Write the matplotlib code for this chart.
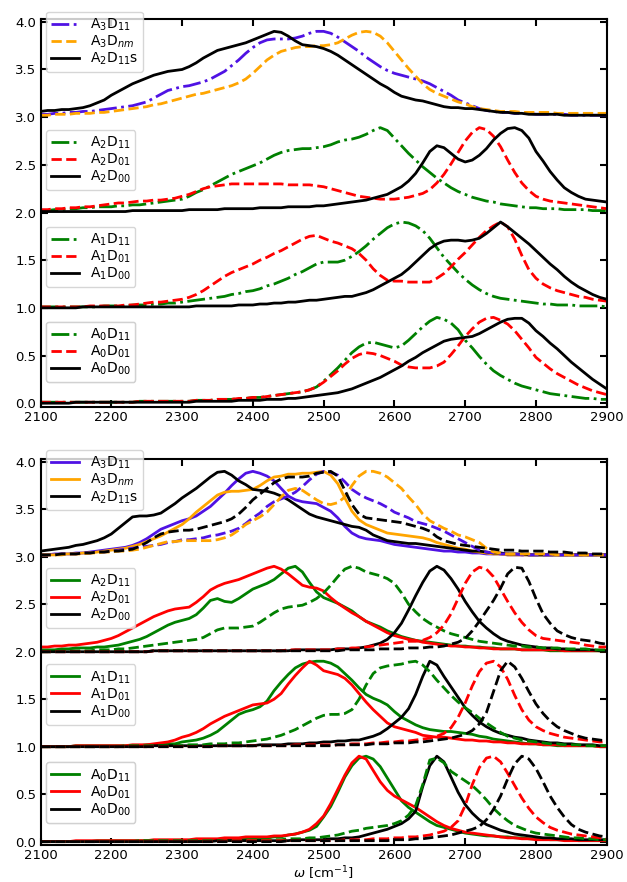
import numpy as np
import matplotlib
matplotlib.use('Agg')
import matplotlib.pyplot as plt

# wavenumber grid (cm^-1)
wavenumber = np.arange(2100, 2901, 10)

# ---------------- Top panel (values without vertical offset) ----------------
top_A3D11 = [0.03,0.03,0.04,0.04,0.05,0.05,0.06,0.06,0.07,0.08,
             0.09,0.10,0.11,0.12,0.14,0.16,0.20,0.24,0.28,0.30,
             0.32,0.33,0.35,0.37,0.40,0.44,0.48,0.54,0.60,0.67,
             0.73,0.78,0.81,0.82,0.82,0.82,0.83,0.85,0.88,0.90,
             0.90,0.88,0.84,0.79,0.74,0.69,0.63,0.58,0.53,0.49,
             0.46,0.44,0.42,0.40,0.38,0.35,0.31,0.27,0.23,0.18,
             0.15,0.12,0.09,0.07,0.06,0.05,0.05,0.04,0.04,0.04,
             0.03,0.03,0.03,0.03,0.03,0.02,0.02,0.02,0.02,0.02,
             0.02]
top_A3Dnm = [0.02,0.02,0.03,0.03,0.03,0.04,0.04,0.04,0.05,0.05,
             0.06,0.07,0.08,0.09,0.10,0.11,0.13,0.14,0.16,0.18,
             0.20,0.22,0.24,0.25,0.27,0.29,0.31,0.33,0.36,0.40,
             0.46,0.53,0.60,0.65,0.69,0.71,0.73,0.74,0.74,0.75,
             0.75,0.76,0.78,0.82,0.86,0.89,0.90,0.89,0.85,0.78,
             0.69,0.60,0.51,0.43,0.35,0.29,0.25,0.22,0.19,0.16,
             0.14,0.11,0.09,0.08,0.07,0.06,0.06,0.06,0.05,0.05,
             0.05,0.05,0.05,0.04,0.04,0.04,0.04,0.04,0.04,0.04,
             0.04]
top_A2D11s = [0.06,0.07,0.07,0.08,0.08,0.09,0.10,0.12,0.15,0.18,
              0.23,0.27,0.31,0.35,0.38,0.41,0.44,0.46,0.48,0.49,
              0.50,0.53,0.57,0.62,0.66,0.70,0.72,0.74,0.76,0.78,
              0.81,0.84,0.87,0.90,0.89,0.85,0.80,0.76,0.75,0.74,
              0.72,0.69,0.65,0.60,0.55,0.50,0.45,0.40,0.35,0.31,
              0.26,0.22,0.20,0.18,0.17,0.15,0.13,0.11,0.10,0.10,
              0.09,0.09,0.08,0.07,0.06,0.05,0.05,0.04,0.04,0.03,
              0.03,0.03,0.03,0.03,0.02,0.02,0.02,0.02,0.02,0.02,
              0.02]
top_A2D11 = [0.02,0.02,0.03,0.03,0.04,0.04,0.05,0.05,0.06,0.06,
             0.06,0.07,0.07,0.08,0.08,0.09,0.10,0.11,0.12,0.13,
             0.14,0.17,0.21,0.24,0.28,0.32,0.36,0.40,0.43,0.46,
             0.49,0.52,0.56,0.60,0.63,0.65,0.66,0.67,0.67,0.68,
             0.69,0.71,0.74,0.76,0.77,0.79,0.82,0.86,0.89,0.86,
             0.78,0.70,0.62,0.55,0.48,0.42,0.36,0.31,0.26,0.22,
             0.19,0.16,0.14,0.12,0.11,0.09,0.08,0.07,0.06,0.05,
             0.05,0.04,0.04,0.04,0.03,0.03,0.03,0.03,0.02,0.02,
             0.02]
top_A2D01 = [0.03,0.03,0.04,0.04,0.05,0.05,0.06,0.06,0.07,0.08,
             0.09,0.10,0.10,0.11,0.12,0.12,0.13,0.13,0.14,0.15,
             0.17,0.19,0.22,0.25,0.27,0.28,0.29,0.30,0.30,0.30,
             0.30,0.30,0.30,0.30,0.30,0.29,0.29,0.29,0.29,0.28,
             0.27,0.25,0.23,0.21,0.19,0.17,0.16,0.15,0.14,0.14,
             0.14,0.15,0.16,0.18,0.20,0.24,0.31,0.40,0.51,0.63,
             0.75,0.84,0.89,0.87,0.80,0.69,0.55,0.42,0.31,0.23,
             0.17,0.14,0.12,0.11,0.10,0.09,0.08,0.07,0.06,0.05,
             0.04]
top_A2D00 = [0.01,0.01,0.01,0.01,0.01,0.01,0.01,0.01,0.01,0.01,
             0.01,0.01,0.01,0.02,0.02,0.02,0.02,0.02,0.02,0.02,
             0.02,0.03,0.03,0.03,0.03,0.03,0.04,0.04,0.04,0.04,
             0.04,0.05,0.05,0.05,0.05,0.06,0.06,0.06,0.06,0.07,
             0.07,0.08,0.09,0.10,0.11,0.12,0.13,0.15,0.17,0.19,
             0.23,0.27,0.33,0.41,0.52,0.64,0.70,0.68,0.62,0.56,
             0.53,0.55,0.60,0.67,0.76,0.83,0.88,0.89,0.86,0.78,
             0.64,0.54,0.43,0.34,0.26,0.21,0.17,0.14,0.13,0.12,
             0.11]
top_A1D11 = [0.01,0.01,0.01,0.01,0.01,0.01,0.01,0.01,0.01,0.02,
             0.02,0.02,0.02,0.03,0.03,0.03,0.04,0.04,0.05,0.05,
             0.06,0.07,0.08,0.09,0.10,0.11,0.12,0.14,0.15,0.17,
             0.18,0.20,0.23,0.25,0.28,0.31,0.35,0.38,0.42,0.46,
             0.48,0.48,0.48,0.50,0.54,0.59,0.65,0.72,0.78,0.84,
             0.88,0.90,0.89,0.86,0.81,0.73,0.63,0.53,0.45,0.37,
             0.30,0.24,0.19,0.15,0.12,0.10,0.09,0.08,0.07,0.06,
             0.05,0.04,0.04,0.03,0.03,0.03,0.02,0.02,0.02,0.02,
             0.01]
top_A1D01 = [0.01,0.01,0.01,0.01,0.01,0.01,0.01,0.02,0.02,0.02,
             0.02,0.02,0.03,0.03,0.04,0.05,0.06,0.06,0.07,0.08,
             0.09,0.11,0.14,0.18,0.23,0.28,0.33,0.37,0.40,0.43,
             0.46,0.50,0.53,0.57,0.60,0.64,0.68,0.72,0.75,0.76,
             0.73,0.70,0.68,0.65,0.62,0.57,0.50,0.41,0.34,0.29,
             0.28,0.28,0.27,0.27,0.27,0.27,0.31,0.36,0.43,0.51,
             0.58,0.66,0.74,0.81,0.86,0.90,0.85,0.72,0.55,0.40,
             0.31,0.25,0.21,0.18,0.16,0.14,0.12,0.11,0.09,0.08,
             0.07]
top_A1D00 = [0.00,0.00,0.00,0.00,0.00,0.00,0.01,0.01,0.01,0.01,
             0.01,0.01,0.01,0.01,0.01,0.01,0.01,0.01,0.01,0.01,
             0.01,0.01,0.02,0.02,0.02,0.02,0.02,0.02,0.03,0.03,
             0.03,0.04,0.04,0.05,0.05,0.06,0.06,0.07,0.08,0.08,
             0.09,0.10,0.11,0.12,0.12,0.14,0.16,0.19,0.23,0.27,
             0.31,0.35,0.41,0.48,0.55,0.62,0.67,0.70,0.71,0.71,
             0.70,0.71,0.73,0.78,0.84,0.90,0.85,0.79,0.73,0.67,
             0.60,0.53,0.46,0.40,0.33,0.27,0.22,0.18,0.14,0.11,
             0.09]
top_A0D11 = [0.01,0.01,0.01,0.01,0.01,0.01,0.01,0.01,0.01,0.01,
             0.01,0.01,0.01,0.01,0.02,0.02,0.02,0.02,0.02,0.02,
             0.02,0.02,0.03,0.03,0.03,0.04,0.04,0.04,0.05,0.05,
             0.06,0.06,0.07,0.08,0.09,0.10,0.11,0.12,0.14,0.17,
             0.23,0.30,0.37,0.45,0.53,0.59,0.63,0.64,0.62,0.60,
             0.58,0.60,0.66,0.73,0.80,0.86,0.90,0.88,0.84,0.77,
             0.66,0.58,0.49,0.41,0.34,0.29,0.25,0.21,0.18,0.16,
             0.14,0.12,0.10,0.09,0.08,0.07,0.06,0.05,0.05,0.04,
             0.04]
top_A0D01 = [0.01,0.01,0.01,0.01,0.01,0.01,0.01,0.01,0.01,0.01,
             0.01,0.01,0.01,0.01,0.02,0.02,0.02,0.02,0.02,0.02,
             0.02,0.02,0.03,0.03,0.03,0.04,0.04,0.04,0.05,0.05,
             0.06,0.06,0.07,0.08,0.09,0.10,0.11,0.12,0.14,0.17,
             0.22,0.28,0.34,0.41,0.47,0.51,0.53,0.52,0.50,0.47,
             0.44,0.40,0.38,0.37,0.37,0.37,0.39,0.43,0.51,0.60,
             0.70,0.78,0.85,0.89,0.90,0.87,0.83,0.76,0.67,0.58,
             0.48,0.42,0.36,0.31,0.27,0.23,0.19,0.16,0.13,0.11,
             0.09]
top_A0D00 = [0.00,0.00,0.00,0.00,0.00,0.01,0.01,0.01,0.01,0.01,
             0.01,0.01,0.01,0.01,0.01,0.01,0.01,0.01,0.01,0.01,
             0.01,0.01,0.02,0.02,0.02,0.02,0.02,0.02,0.03,0.03,
             0.03,0.03,0.04,0.04,0.04,0.05,0.05,0.06,0.07,0.08,
             0.09,0.10,0.11,0.13,0.15,0.18,0.21,0.24,0.27,0.31,
             0.35,0.39,0.44,0.48,0.53,0.57,0.61,0.65,0.67,0.68,
             0.69,0.70,0.73,0.77,0.81,0.85,0.88,0.89,0.89,0.84,
             0.76,0.70,0.63,0.57,0.50,0.43,0.37,0.31,0.25,0.20,
             0.15]

# ---------------- Bottom panel: solid (_s) and dashed (_d) ----------------
bot_A3D11_s = [0.02,0.02,0.03,0.03,0.03,0.04,0.04,0.05,0.06,0.07,
               0.08,0.09,0.10,0.12,0.15,0.19,0.24,0.29,0.32,0.35,
               0.38,0.40,0.43,0.48,0.53,0.60,0.67,0.75,0.82,0.88,
               0.90,0.88,0.85,0.80,0.72,0.64,0.60,0.58,0.57,0.56,
               0.52,0.48,0.41,0.32,0.25,0.21,0.19,0.18,0.17,0.15,
               0.13,0.12,0.11,0.10,0.09,0.08,0.07,0.06,0.06,0.05,
               0.05,0.04,0.04,0.03,0.03,0.03,0.02,0.02,0.02,0.02,
               0.02,0.02,0.02,0.02,0.02,0.02,0.02,0.02,0.02,0.02,
               0.02]
bot_A3Dnm_s = [0.02,0.02,0.02,0.03,0.03,0.03,0.04,0.04,0.05,0.06,
               0.07,0.08,0.09,0.11,0.13,0.16,0.19,0.22,0.26,0.30,
               0.34,0.40,0.47,0.53,0.59,0.65,0.68,0.69,0.69,0.70,
               0.71,0.75,0.80,0.84,0.85,0.87,0.87,0.88,0.88,0.89,
               0.90,0.86,0.77,0.62,0.48,0.39,0.34,0.31,0.28,0.25,
               0.24,0.23,0.22,0.21,0.20,0.18,0.15,0.13,0.11,0.09,
               0.08,0.06,0.05,0.04,0.03,0.03,0.02,0.02,0.02,0.02,
               0.02,0.02,0.02,0.02,0.02,0.02,0.02,0.02,0.02,0.02,
               0.02]
bot_A2D11s_s = [0.06,0.07,0.08,0.09,0.10,0.12,0.13,0.15,0.17,0.20,
                0.24,0.30,0.36,0.42,0.43,0.43,0.44,0.46,0.51,0.56,
                0.62,0.67,0.72,0.78,0.84,0.89,0.90,0.86,0.80,0.76,
                0.71,0.70,0.69,0.67,0.64,0.60,0.55,0.50,0.45,0.42,
                0.40,0.38,0.36,0.34,0.32,0.31,0.28,0.23,0.20,0.17,
                0.16,0.15,0.14,0.14,0.13,0.12,0.11,0.10,0.09,0.08,
                0.07,0.06,0.06,0.05,0.04,0.04,0.03,0.03,0.03,0.02,
                0.02,0.02,0.02,0.02,0.02,0.02,0.02,0.02,0.02,0.02,
                0.02]
bot_A3D11_d = [0.02,0.02,0.02,0.03,0.03,0.03,0.04,0.04,0.05,0.05,
               0.06,0.07,0.08,0.09,0.10,0.11,0.12,0.13,0.15,0.16,
               0.18,0.18,0.19,0.20,0.22,0.23,0.25,0.27,0.30,0.35,
               0.41,0.46,0.53,0.58,0.61,0.64,0.68,0.74,0.81,0.87,
               0.90,0.89,0.86,0.79,0.71,0.66,0.62,0.59,0.56,0.52,
               0.47,0.44,0.41,0.37,0.35,0.33,0.30,0.27,0.23,0.19,
               0.15,0.11,0.07,0.05,0.04,0.03,0.03,0.03,0.02,0.02,
               0.02,0.02,0.02,0.02,0.02,0.02,0.02,0.02,0.02,0.02,
               0.02]
bot_A3Dnm_d = [0.02,0.02,0.02,0.02,0.03,0.03,0.03,0.04,0.04,0.05,
               0.05,0.06,0.06,0.07,0.08,0.10,0.12,0.14,0.16,0.16,
               0.17,0.17,0.17,0.17,0.17,0.18,0.20,0.23,0.28,0.34,
               0.38,0.42,0.47,0.55,0.63,0.70,0.72,0.70,0.65,0.60,
               0.56,0.55,0.57,0.63,0.75,0.85,0.90,0.90,0.88,0.84,
               0.78,0.72,0.63,0.55,0.45,0.38,0.34,0.30,0.27,0.23,
               0.21,0.18,0.15,0.09,0.05,0.04,0.03,0.03,0.03,0.03,
               0.03,0.03,0.03,0.02,0.02,0.02,0.02,0.02,0.02,0.02,
               0.02]
bot_A2D11s_d = [0.02,0.02,0.02,0.03,0.03,0.03,0.04,0.04,0.05,0.05,
                0.06,0.06,0.07,0.08,0.11,0.15,0.20,0.24,0.26,0.27,
                0.28,0.28,0.29,0.31,0.33,0.35,0.37,0.40,0.45,0.52,
                0.60,0.66,0.72,0.78,0.82,0.84,0.84,0.84,0.85,0.88,
                0.89,0.90,0.85,0.70,0.55,0.45,0.41,0.40,0.39,0.38,
                0.37,0.36,0.34,0.32,0.30,0.27,0.21,0.17,0.15,0.13,
                0.12,0.11,0.10,0.09,0.08,0.07,0.07,0.07,0.06,0.06,
                0.06,0.06,0.05,0.05,0.05,0.04,0.04,0.04,0.03,0.03,
                0.03]
bot_A2D11_s = [0.02,0.02,0.02,0.03,0.03,0.04,0.04,0.04,0.05,0.05,
               0.06,0.07,0.09,0.11,0.13,0.16,0.20,0.24,0.28,0.31,
               0.33,0.35,0.39,0.46,0.54,0.56,0.53,0.52,0.56,0.61,
               0.66,0.69,0.72,0.76,0.82,0.88,0.90,0.84,0.73,0.63,
               0.57,0.54,0.51,0.47,0.43,0.37,0.32,0.29,0.26,0.22,
               0.19,0.16,0.14,0.12,0.11,0.10,0.09,0.08,0.07,0.06,
               0.06,0.05,0.05,0.04,0.04,0.03,0.03,0.03,0.02,0.02,
               0.02,0.02,0.01,0.01,0.01,0.01,0.01,0.01,0.01,0.01,
               0.01]
bot_A2D01_s = [0.05,0.05,0.06,0.06,0.07,0.07,0.08,0.09,0.10,0.12,
               0.14,0.17,0.21,0.25,0.29,0.33,0.37,0.40,0.43,0.45,
               0.46,0.47,0.52,0.58,0.65,0.69,0.72,0.74,0.76,0.79,
               0.82,0.85,0.88,0.90,0.87,0.82,0.76,0.70,0.68,0.67,
               0.64,0.57,0.51,0.46,0.41,0.37,0.32,0.28,0.24,0.20,
               0.17,0.15,0.13,0.12,0.10,0.09,0.08,0.07,0.06,0.06,
               0.05,0.05,0.04,0.04,0.03,0.03,0.03,0.03,0.02,0.02,
               0.02,0.02,0.02,0.02,0.01,0.01,0.01,0.01,0.01,0.01,
               0.01]
bot_A2D00_s = [0.00,0.00,0.00,0.00,0.00,0.00,0.00,0.00,0.00,0.00,
               0.00,0.00,0.00,0.00,0.00,0.00,0.01,0.01,0.01,0.01,
               0.01,0.01,0.01,0.01,0.01,0.01,0.01,0.01,0.01,0.01,
               0.01,0.01,0.01,0.01,0.01,0.01,0.02,0.02,0.02,0.02,
               0.02,0.02,0.03,0.03,0.03,0.04,0.05,0.07,0.09,0.13,
               0.20,0.30,0.44,0.59,0.73,0.85,0.90,0.86,0.77,0.66,
               0.53,0.42,0.32,0.25,0.19,0.14,0.11,0.09,0.07,0.06,
               0.05,0.04,0.04,0.03,0.03,0.02,0.02,0.02,0.02,0.01,
               0.01]
bot_A2D11_d = [0.00,0.00,0.00,0.01,0.01,0.01,0.01,0.01,0.02,0.02,
               0.02,0.03,0.03,0.04,0.05,0.06,0.07,0.08,0.09,0.10,
               0.11,0.12,0.13,0.15,0.19,0.23,0.25,0.25,0.25,0.26,
               0.27,0.31,0.36,0.41,0.45,0.47,0.48,0.49,0.52,0.56,
               0.62,0.70,0.79,0.87,0.90,0.88,0.84,0.82,0.80,0.77,
               0.72,0.62,0.50,0.42,0.35,0.30,0.26,0.22,0.19,0.17,
               0.15,0.13,0.11,0.10,0.09,0.08,0.07,0.06,0.06,0.05,
               0.05,0.04,0.04,0.04,0.03,0.03,0.03,0.03,0.02,0.02,
               0.02]
bot_A2D01_d = [0.00,0.00,0.00,0.00,0.00,0.00,0.00,0.00,0.00,0.00,
               0.00,0.00,0.00,0.00,0.00,0.00,0.01,0.01,0.01,0.01,
               0.01,0.01,0.01,0.01,0.01,0.01,0.01,0.01,0.01,0.01,
               0.01,0.01,0.01,0.01,0.01,0.02,0.02,0.02,0.02,0.02,
               0.02,0.02,0.03,0.03,0.04,0.04,0.05,0.06,0.07,0.08,
               0.09,0.10,0.11,0.11,0.12,0.15,0.20,0.28,0.40,0.56,
               0.72,0.84,0.89,0.87,0.79,0.66,0.53,0.41,0.31,0.23,
               0.17,0.14,0.13,0.12,0.11,0.10,0.09,0.07,0.06,0.05,
               0.05]
bot_A2D00_d = [0.00,0.00,0.00,0.00,0.00,0.00,0.00,0.00,0.00,0.00,
               0.00,0.00,0.00,0.00,0.00,0.00,0.01,0.01,0.01,0.01,
               0.01,0.01,0.01,0.01,0.01,0.01,0.01,0.01,0.01,0.01,
               0.01,0.01,0.01,0.01,0.01,0.01,0.01,0.01,0.01,0.01,
               0.01,0.01,0.01,0.02,0.02,0.02,0.02,0.02,0.03,0.03,
               0.03,0.03,0.04,0.04,0.04,0.05,0.05,0.06,0.08,0.10,
               0.14,0.22,0.32,0.43,0.54,0.67,0.82,0.89,0.88,0.74,
               0.56,0.40,0.30,0.22,0.18,0.15,0.13,0.12,0.11,0.09,
               0.08]
bot_A1D11_s = [0.00,0.00,0.00,0.00,0.00,0.01,0.01,0.01,0.01,0.01,
               0.01,0.01,0.01,0.01,0.01,0.02,0.02,0.02,0.03,0.03,
               0.05,0.06,0.07,0.09,0.12,0.16,0.22,0.28,0.34,0.37,
               0.39,0.42,0.48,0.59,0.68,0.76,0.83,0.87,0.89,0.90,
               0.90,0.88,0.84,0.77,0.70,0.62,0.55,0.51,0.48,0.44,
               0.37,0.31,0.27,0.23,0.20,0.18,0.17,0.16,0.16,0.15,
               0.14,0.13,0.11,0.10,0.08,0.07,0.06,0.05,0.04,0.03,
               0.03,0.02,0.02,0.01,0.01,0.01,0.01,0.01,0.01,0.00,
               0.00]
bot_A1D01_s = [0.00,0.00,0.00,0.00,0.00,0.01,0.01,0.01,0.01,0.01,
               0.01,0.01,0.01,0.02,0.02,0.02,0.03,0.04,0.05,0.07,
               0.10,0.12,0.15,0.19,0.24,0.28,0.32,0.35,0.38,0.41,
               0.44,0.45,0.46,0.50,0.56,0.66,0.75,0.83,0.90,0.86,
               0.80,0.78,0.76,0.72,0.65,0.56,0.47,0.39,0.32,0.25,
               0.21,0.19,0.17,0.15,0.12,0.11,0.10,0.10,0.09,0.08,
               0.07,0.07,0.06,0.06,0.05,0.05,0.04,0.04,0.03,0.03,
               0.03,0.02,0.02,0.02,0.01,0.01,0.01,0.01,0.01,0.00,
               0.00]
bot_A1D00_s = [0.00,0.00,0.00,0.00,0.00,0.00,0.00,0.00,0.00,0.00,
               0.00,0.00,0.00,0.00,0.00,0.00,0.01,0.01,0.01,0.01,
               0.01,0.01,0.01,0.01,0.01,0.01,0.01,0.01,0.01,0.01,
               0.01,0.02,0.02,0.02,0.02,0.03,0.03,0.03,0.04,0.04,
               0.05,0.05,0.06,0.06,0.07,0.07,0.09,0.11,0.14,0.19,
               0.25,0.31,0.40,0.55,0.74,0.90,0.86,0.74,0.63,0.52,
               0.41,0.33,0.26,0.21,0.17,0.14,0.12,0.10,0.09,0.07,
               0.06,0.05,0.04,0.04,0.03,0.03,0.02,0.02,0.02,0.01,
               0.01]
bot_A1D11_d = [0.00,0.00,0.00,0.00,0.00,0.00,0.00,0.00,0.00,0.00,
               0.00,0.00,0.01,0.01,0.01,0.01,0.01,0.01,0.01,0.01,
               0.01,0.02,0.02,0.02,0.03,0.03,0.03,0.04,0.04,0.05,
               0.06,0.07,0.08,0.10,0.12,0.15,0.18,0.22,0.26,0.30,
               0.33,0.34,0.34,0.35,0.39,0.50,0.65,0.77,0.83,0.85,
               0.86,0.87,0.89,0.90,0.86,0.79,0.70,0.62,0.54,0.47,
               0.41,0.36,0.30,0.25,0.20,0.15,0.11,0.09,0.07,0.06,
               0.05,0.04,0.03,0.03,0.02,0.02,0.02,0.01,0.01,0.01,
               0.01]
bot_A1D01_d = [0.00,0.00,0.00,0.00,0.00,0.00,0.00,0.00,0.00,0.00,
               0.00,0.00,0.00,0.00,0.00,0.00,0.00,0.00,0.00,0.00,
               0.00,0.00,0.00,0.00,0.00,0.01,0.01,0.01,0.01,0.01,
               0.01,0.01,0.01,0.01,0.01,0.01,0.02,0.02,0.02,0.02,
               0.02,0.02,0.02,0.02,0.03,0.03,0.03,0.04,0.04,0.05,
               0.05,0.06,0.06,0.07,0.08,0.09,0.11,0.14,0.20,0.31,
               0.46,0.64,0.79,0.88,0.90,0.84,0.71,0.54,0.39,0.28,
               0.21,0.17,0.14,0.12,0.10,0.09,0.08,0.07,0.06,0.05,
               0.05]
bot_A1D00_d = [0.00,0.00,0.00,0.00,0.00,0.00,0.00,0.00,0.00,0.00,
               0.00,0.00,0.00,0.00,0.00,0.00,0.00,0.00,0.00,0.00,
               0.00,0.00,0.00,0.00,0.00,0.01,0.01,0.01,0.01,0.01,
               0.01,0.01,0.01,0.01,0.01,0.01,0.01,0.01,0.01,0.01,
               0.01,0.01,0.02,0.02,0.02,0.02,0.02,0.03,0.03,0.03,
               0.04,0.04,0.04,0.05,0.05,0.06,0.07,0.08,0.09,0.11,
               0.13,0.17,0.24,0.36,0.58,0.80,0.90,0.84,0.72,0.58,
               0.45,0.35,0.27,0.21,0.17,0.14,0.11,0.09,0.08,0.07,
               0.06]
bot_A0D11_s = [0.00,0.00,0.00,0.00,0.00,0.00,0.00,0.00,0.01,0.01,
               0.01,0.01,0.01,0.01,0.01,0.01,0.01,0.01,0.01,0.01,
               0.01,0.01,0.01,0.01,0.02,0.02,0.02,0.02,0.02,0.03,
               0.03,0.03,0.04,0.05,0.05,0.07,0.08,0.10,0.12,0.16,
               0.26,0.37,0.52,0.68,0.80,0.88,0.90,0.87,0.79,0.67,
               0.55,0.43,0.36,0.31,0.26,0.21,0.17,0.15,0.13,0.11,
               0.09,0.08,0.07,0.06,0.06,0.05,0.05,0.04,0.04,0.03,
               0.03,0.03,0.02,0.02,0.02,0.02,0.01,0.01,0.01,0.01,
               0.01]
bot_A0D01_s = [0.00,0.00,0.00,0.00,0.00,0.01,0.01,0.01,0.01,0.01,
               0.01,0.01,0.01,0.01,0.01,0.01,0.02,0.02,0.02,0.02,
               0.02,0.02,0.03,0.03,0.03,0.03,0.04,0.04,0.04,0.05,
               0.05,0.05,0.05,0.06,0.06,0.07,0.08,0.10,0.13,0.19,
               0.27,0.40,0.55,0.70,0.83,0.90,0.87,0.75,0.63,0.54,
               0.48,0.44,0.40,0.36,0.31,0.26,0.21,0.17,0.14,0.12,
               0.10,0.09,0.08,0.07,0.06,0.05,0.04,0.04,0.03,0.03,
               0.02,0.02,0.02,0.02,0.01,0.01,0.01,0.01,0.01,0.01,
               0.01]
bot_A0D00_s = [0.00,0.00,0.00,0.00,0.00,0.00,0.00,0.00,0.00,0.00,
               0.00,0.00,0.00,0.00,0.00,0.00,0.00,0.00,0.00,0.00,
               0.00,0.00,0.00,0.00,0.00,0.01,0.01,0.01,0.01,0.01,
               0.01,0.01,0.01,0.01,0.01,0.01,0.02,0.02,0.02,0.02,
               0.02,0.03,0.03,0.04,0.04,0.05,0.07,0.09,0.11,0.13,
               0.16,0.19,0.24,0.32,0.58,0.80,0.90,0.84,0.68,0.52,
               0.39,0.30,0.23,0.18,0.15,0.12,0.10,0.08,0.07,0.06,
               0.05,0.04,0.04,0.03,0.03,0.03,0.02,0.02,0.02,0.02,
               0.02]
bot_A0D11_d = [0.00,0.00,0.00,0.00,0.00,0.00,0.00,0.00,0.00,0.00,
               0.00,0.00,0.00,0.00,0.01,0.01,0.01,0.01,0.01,0.01,
               0.01,0.01,0.01,0.01,0.01,0.01,0.01,0.01,0.01,0.01,
               0.02,0.02,0.02,0.02,0.02,0.03,0.03,0.03,0.04,0.04,
               0.05,0.06,0.07,0.09,0.11,0.12,0.14,0.15,0.16,0.17,
               0.19,0.22,0.28,0.38,0.60,0.86,0.88,0.83,0.74,0.69,
               0.64,0.59,0.52,0.44,0.35,0.28,0.22,0.17,0.14,0.11,
               0.09,0.08,0.07,0.06,0.05,0.04,0.04,0.03,0.03,0.02,
               0.02]
bot_A0D01_d = [0.00,0.00,0.00,0.00,0.00,0.00,0.00,0.00,0.00,0.00,
               0.00,0.00,0.00,0.00,0.00,0.00,0.00,0.00,0.00,0.00,
               0.00,0.00,0.00,0.00,0.00,0.00,0.01,0.01,0.01,0.01,
               0.01,0.01,0.01,0.01,0.01,0.01,0.01,0.01,0.01,0.01,
               0.01,0.01,0.01,0.02,0.02,0.02,0.02,0.03,0.03,0.03,
               0.04,0.04,0.05,0.05,0.06,0.07,0.09,0.11,0.15,0.22,
               0.38,0.60,0.78,0.88,0.90,0.84,0.72,0.59,0.46,0.35,
               0.26,0.20,0.15,0.12,0.10,0.08,0.07,0.06,0.05,0.04,
               0.03]
bot_A0D00_d = [0.00,0.00,0.00,0.00,0.00,0.00,0.00,0.00,0.00,0.00,
               0.00,0.00,0.00,0.00,0.00,0.00,0.00,0.00,0.00,0.00,
               0.00,0.00,0.00,0.00,0.00,0.00,0.00,0.00,0.00,0.00,
               0.00,0.00,0.00,0.00,0.00,0.01,0.01,0.01,0.01,0.01,
               0.01,0.01,0.01,0.01,0.01,0.01,0.01,0.01,0.01,0.01,
               0.02,0.02,0.02,0.03,0.03,0.04,0.05,0.06,0.07,0.09,
               0.11,0.13,0.16,0.23,0.34,0.48,0.66,0.82,0.90,0.87,
               0.77,0.63,0.48,0.36,0.26,0.18,0.13,0.10,0.08,0.06,
               0.05]

# labels
lab_A3D11 = r'A$_3$D$_{11}$'
lab_A3Dnm = r'A$_3$D$_{nm}$'
lab_A2D11s = r'A$_2$D$_{11}$s'

BLUE = '#4f12e4'
ORANGE = 'orange'
GREEN = 'green'
RED = 'red'
BLACK = 'black'

plt.rcParams['font.family'] = ['DejaVu Sans']
plt.rcParams['mathtext.fontset'] = 'dejavusans'
FS_TICK = 9.5
FS_LEG = 10
LW = 2.0

fig = plt.figure(figsize=(6.27, 8.82), dpi=100)
ax_top = fig.add_axes([0.0646, 0.5391, 0.9031, 0.4394])
ax_bot = fig.add_axes([0.0646, 0.0420, 0.9031, 0.4376])

# top panel groups: (offset, legend_y, [(data, color, ls, label)])
top_groups = [
    (3, 1.019, [(top_A3D11, BLUE, '-.', lab_A3D11),
                (top_A3Dnm, ORANGE, '--', lab_A3Dnm),
                (top_A2D11s, BLACK, '-', lab_A2D11s)]),
    (2, 0.7135, [(top_A2D11, GREEN, '-.', r'A$_2$D$_{11}$'),
                 (top_A2D01, RED, '--', r'A$_2$D$_{01}$'),
                 (top_A2D00, BLACK, '-', r'A$_2$D$_{00}$')]),
    (1, 0.464, [(top_A1D11, GREEN, '-.', r'A$_1$D$_{11}$'),
                (top_A1D01, RED, '--', r'A$_1$D$_{01}$'),
                (top_A1D00, BLACK, '-', r'A$_1$D$_{00}$')]),
    (0, 0.219, [(top_A0D11, GREEN, '-.', r'A$_0$D$_{11}$'),
                (top_A0D01, RED, '--', r'A$_0$D$_{01}$'),
                (top_A0D00, BLACK, '-', r'A$_0$D$_{00}$')]),
]

bot_groups = [
    (3, 1.023, [(bot_A3D11_s, bot_A3D11_d, BLUE, lab_A3D11),
                (bot_A3Dnm_s, bot_A3Dnm_d, ORANGE, lab_A3Dnm),
                (bot_A2D11s_s, bot_A2D11s_d, BLACK, lab_A2D11s)]),
    (2, 0.718, [(bot_A2D11_s, bot_A2D11_d, GREEN, r'A$_2$D$_{11}$'),
                (bot_A2D01_s, bot_A2D01_d, RED, r'A$_2$D$_{01}$'),
                (bot_A2D00_s, bot_A2D00_d, BLACK, r'A$_2$D$_{00}$')]),
    (1, 0.468, [(bot_A1D11_s, bot_A1D11_d, GREEN, r'A$_1$D$_{11}$'),
                (bot_A1D01_s, bot_A1D01_d, RED, r'A$_1$D$_{01}$'),
                (bot_A1D00_s, bot_A1D00_d, BLACK, r'A$_1$D$_{00}$')]),
    (0, 0.214, [(bot_A0D11_s, bot_A0D11_d, GREEN, r'A$_0$D$_{11}$'),
                (bot_A0D01_s, bot_A0D01_d, RED, r'A$_0$D$_{01}$'),
                (bot_A0D00_s, bot_A0D00_d, BLACK, r'A$_0$D$_{00}$')]),
]

leg_kw = dict(loc='upper left', fontsize=FS_LEG, borderaxespad=0.0,
              labelspacing=0.05, handlelength=2.0, handletextpad=0.8,
              borderpad=0.35, framealpha=0.8)

LEGX = 0.0097

for offset, ly, series in top_groups:
    handles = []
    for data, col, ls, lab in series:
        h, = ax_top.plot(wavenumber, np.asarray(data) + offset, color=col,
                         ls=ls, lw=LW, label=lab)
        handles.append(h)
    leg = ax_top.legend(handles=handles, bbox_to_anchor=(LEGX, ly), **leg_kw)
    ax_top.add_artist(leg)

for offset, ly, series in bot_groups:
    handles = []
    for sol, das, col, lab in series:
        h, = ax_bot.plot(wavenumber, np.asarray(sol) + offset, color=col,
                         ls='-', lw=LW, label=lab)
        handles.append(h)
    for sol, das, col, lab in series:
        ax_bot.plot(wavenumber, np.asarray(das) + offset, color=col,
                    ls='--', lw=LW)
    leg = ax_bot.legend(handles=handles, bbox_to_anchor=(LEGX, ly), **leg_kw)
    ax_bot.add_artist(leg)

for ax in (ax_top, ax_bot):
    ax.set_xlim(2100, 2900)
    ax.set_ylim(-0.035, 4.03)
    ax.set_xticks(np.arange(2100, 2901, 100))
    ax.set_yticks(np.arange(0, 4.01, 0.5))
    ax.tick_params(direction='in', top=True, right=True, length=5,
                   width=1.5, labelsize=FS_TICK, pad=3)
    for s in ax.spines.values():
        s.set_linewidth(1.5)

ax_bot.set_xlabel(r'$\omega$ [cm$^{-1}$]', fontsize=FS_TICK, labelpad=2)

fig.savefig('out.png', dpi=100)
